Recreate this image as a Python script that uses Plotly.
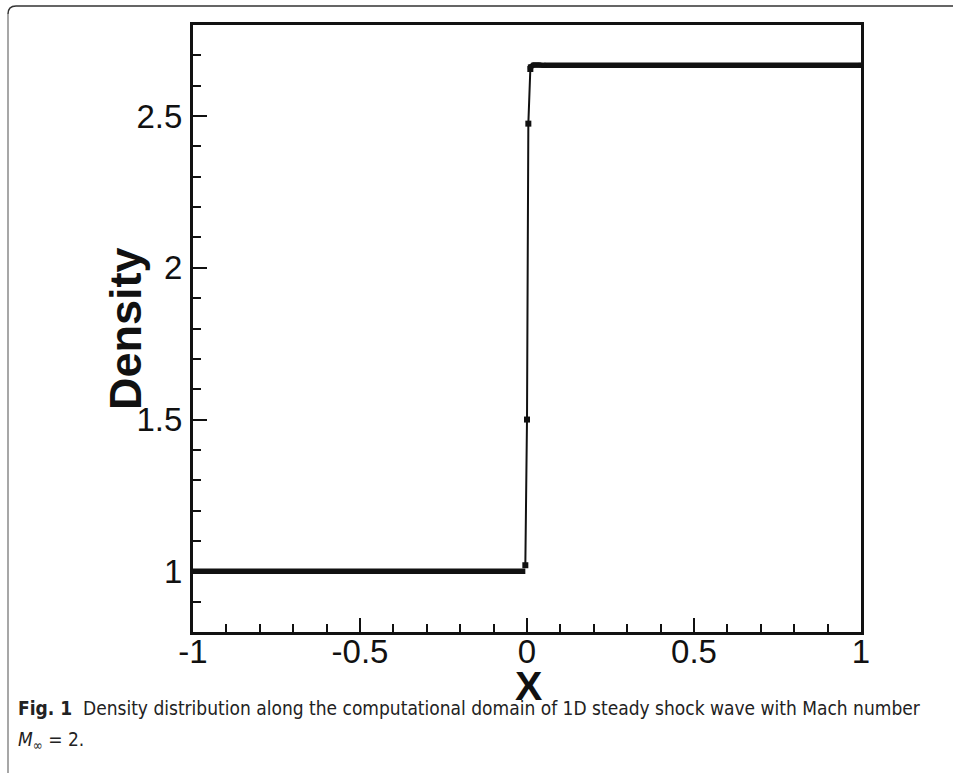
import plotly.graph_objects as go

# ---- data ----
x_upstream = [-1.0, -0.005]
rho_upstream = [1.0, 1.0]

x_shock = [-0.005, 0.0, 0.004, 0.01]
rho_shock = [1.02, 1.5, 2.475, 2.655]

x_downstream = [0.01, 0.02, 0.035, 0.05, 1.0]
rho_downstream = [2.662, 2.668, 2.668, 2.667, 2.667]

x_ticks = [-1, -0.5, 0, 0.5, 1]
x_ticklabels = ["-1", "-0.5", "0", "0.5", "1"]
y_ticks = [1, 1.5, 2, 2.5]
y_ticklabels = ["1", "1.5", "2", "2.5"]

caption_1 = "<b>Fig. 1</b>  Density distribution along the computational domain of 1D steady shock wave with Mach number"
caption_2 = "<i>M</i><sub>∞</sub> = 2."

# ---- layout geometry (pixels) ----
W, H = 953, 773
L, R, T, B = 193, 92, 25, 141
PW, PH = W - L - R, H - T - B


def px(xp):
    return (xp - L) / PW


def py(yp):
    return 1 - (yp - T) / PH


INK = "#111111"
fig = go.Figure()
fig.add_trace(go.Scatter(x=x_upstream, y=rho_upstream, mode="lines",
                         line=dict(color=INK, width=5.5)))
fig.add_trace(go.Scatter(x=x_shock, y=rho_shock, mode="lines+markers",
                         line=dict(color=INK, width=2),
                         marker=dict(symbol="square", size=6, color=INK)))
fig.add_trace(go.Scatter(x=x_downstream, y=rho_downstream, mode="lines+markers",
                         line=dict(color=INK, width=5.5),
                         marker=dict(symbol="square", size=5, color=INK)))

tickfont = dict(family="Liberation Sans, Arial, Helvetica, sans-serif", size=33, color=INK)
axis_common = dict(showgrid=False, zeroline=False, showline=True, linecolor=INK,
                   linewidth=3, mirror=True, ticks="inside", ticklen=14,
                   tickwidth=2, tickcolor=INK, tickfont=tickfont,
                   minor=dict(ticks="inside", ticklen=8, tickwidth=1.5,
                              tickcolor=INK, dtick=0.1, showgrid=False))

fig.update_xaxes(range=[-1, 1], tickvals=x_ticks, ticktext=x_ticklabels,
                 ticklabelstandoff=-12, **axis_common)
fig.update_yaxes(range=[0.8, 2.8], tickvals=y_ticks, ticktext=y_ticklabels,
                 ticklabelstandoff=1, **axis_common)

titlefont = dict(family="Liberation Sans, Arial, Helvetica, sans-serif", size=45, color=INK)
capfont = dict(family="DejaVu Sans Condensed, DejaVu Sans, sans-serif", size=19, color="#222222")
annotations = [
    dict(text="<b>Density</b>", textangle=-90, x=px(125), y=py(329), xref="paper", yref="paper",
         xanchor="center", yanchor="middle", showarrow=False, font=titlefont),
    dict(text="<b>X</b>", x=px(528), y=py(686), xref="paper", yref="paper",
         xanchor="center", yanchor="middle", showarrow=False,
         font=dict(family="Liberation Sans, Arial, sans-serif", size=41, color=INK)),
    dict(text=caption_1, x=px(16), y=py(708), xref="paper", yref="paper",
         xanchor="left", yanchor="middle", showarrow=False, align="left", font=capfont),
    dict(text=caption_2, x=px(16), y=py(740), xref="paper", yref="paper",
         xanchor="left", yanchor="middle", showarrow=False, align="left", font=capfont),
]

shapes = [
    # outer figure frame: left edge (gray) and rounded top-left corner + top edge
    dict(type="line", xref="paper", yref="paper", x0=px(8), x1=px(8), y0=py(780), y1=py(14),
         line=dict(color="#8a8a8a", width=1.5)),
    dict(type="path", xref="paper", yref="paper",
         path=f"M {px(8)},{py(14)} Q {px(8)},{py(6)} {px(16)},{py(6)} L {px(960)},{py(6)}",
         line=dict(color="#333333", width=1.5)),
]

fig.update_layout(width=W, height=H, margin=dict(l=L, r=R, t=T, b=B),
                  paper_bgcolor="white", plot_bgcolor="white", showlegend=False,
                  annotations=annotations, shapes=shapes)

fig.write_html("out.html", config={"displayModeBar": False},
               post_script="document.body.style.margin='0';document.body.style.overflow='hidden';")
